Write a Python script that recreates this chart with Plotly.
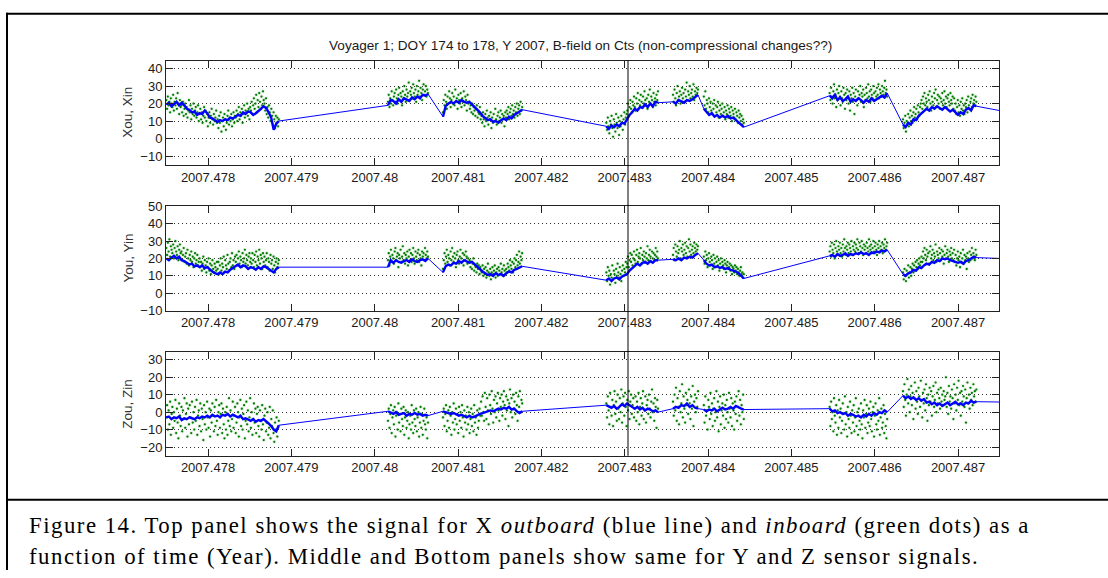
import numpy as np
import plotly.graph_objects as go

W, H = 1108, 578

# Telemetry passes (fractional year): start and end of each continuous block
SEG_START = [2007.47750, 2007.48016, 2007.48082, 2007.48278, 2007.48358, 2007.48395, 2007.48546, 2007.48634]
SEG_END = [2007.47885, 2007.48064, 2007.48177, 2007.48340, 2007.48388, 2007.48443, 2007.48615, 2007.48722]
T_LAST = 2007.48750

X_TICKS = [2007.478, 2007.479, 2007.480, 2007.481, 2007.482, 2007.483, 2007.484, 2007.485, 2007.486, 2007.487]
X_TICK_TEXT = ["2007.478", "2007.479", "2007.48", "2007.481", "2007.482", "2007.483",
               "2007.484", "2007.485", "2007.486", "2007.487"]
MARKER_T = 2007.48304

# ---- X sensor: outboard (line) and inboard (dots), one list per pass ----
X_OUT = [
    [19.5, 20.5, 18.5, 20, 21, 19, 20.5, 19, 17, 16.5, 15, 15.5, 13.5, 14.5, 14, 16, 14.5, 12, 11.5, 10.5,
     9.5, 10.5, 10, 11, 10.5, 12, 11.5, 12.5, 13.5, 13, 15, 14, 15.5, 15, 13.5, 14.5, 15.5, 17, 18.5, 17.5,
     15, 12, 5, 8.5, 10],
    [19, 22, 21.5, 20, 22.5, 21, 23, 22, 21.5, 23.5, 22.5, 24, 23, 25, 24.5, 25.5],
    [12.5, 18.5, 20, 21, 20, 21.5, 20.5, 22, 21, 20.5, 21, 19.5, 18.5, 17, 15, 13, 12, 10.5, 11, 9.5,
     10, 9, 10.5, 11.5, 10.5, 12.5, 11.5, 13.5, 14.5, 15.5, 16.5],
    [7, 5.5, 7.5, 6.5, 8, 7, 9, 8.5, 11, 13.5, 15, 17, 16, 18, 17.5, 19.5, 18, 20, 18.5, 21, 20.5],
    [21, 20, 22, 21, 20.5, 22, 21.5, 22.5, 24, 25],
    [17, 15, 13.5, 14.5, 12.5, 13.5, 12, 13, 12, 13, 11.5, 12, 10.5, 9, 8, 6.5],
    [24.5, 23, 25, 22, 23.5, 21.5, 22.5, 24, 21, 22.5, 21.5, 23, 22, 20.5, 22, 21, 23, 21.5, 22.5, 23.5,
     24.5, 23.5, 26],
    [8, 6.5, 9, 8, 11, 10.5, 13, 14.5, 15.5, 17, 16, 18, 17, 18.5, 17.5, 16.5, 18, 17, 15.5, 16.5, 15,
     13.5, 15, 14, 16.5, 17.5, 16, 19, 18.5],
]
X_OUT_LAST = 16.0
X_IN = [
    [22, 17, 24, 19, 21, 15, 23, 20, 18, 25, 16, 21, 19, 23, 17, 26, 20, 14, 22, 18,
     19, 15, 21, 13, 17, 20, 14, 18, 12, 16, 22, 15, 19, 11, 17, 14, 20, 13, 16, 18, 12, 15, 19, 10,
     14, 17, 11, 15, 9, 13, 18, 12, 16, 10, 14, 7, 12, 15, 9, 13, 17, 11, 8, 14, 10, 12, 16, 9,
     11, 6, 13, 9, 15, 4, 10, 12, 7, 14, 11, 5, 9, 13, 16, 8, 12, 10, 14, 7, 11, 15, 9, 13,
     12, 16, 10, 14, 18, 11, 15, 13, 17, 9, 14, 19, 12, 16, 15, 20, 13, 17, 11, 18,
     16, 21, 14, 19, 23, 17, 20, 25, 15, 22, 18, 26, 21, 17, 24, 19, 27, 22,
     20, 16, 23, 14, 18, 12, 19, 15, 10, 17, 13, 8, 15, 11, 6, 13, 9, 12, 7, 11],
    [21, 25, 18, 23, 20, 27, 22, 19, 24, 26, 21, 28, 23, 20, 25, 29, 22, 26, 24, 19, 27, 23, 30, 25, 21, 28,
     24, 26, 32, 22, 27, 25, 29, 23, 31, 26, 24, 28, 21, 30, 25, 27, 33, 24, 29, 26, 22, 28, 31, 25, 27, 30,
     24, 28, 26],
    [15,
     22, 19, 25, 21, 17, 24, 20, 27, 23, 18, 22, 26, 20, 24, 19, 28, 21, 23, 17, 25, 22, 20, 26, 18, 23, 21,
     27, 19, 24, 22, 16, 25, 20,
     21, 17, 19, 15, 20, 14, 18, 16, 13, 17, 19, 12, 15, 14, 18, 11,
     13, 9, 15, 11, 7, 14, 10, 16, 12, 8, 13, 11, 15, 6, 12, 9, 14, 10, 17, 11, 8, 13, 15, 10, 12, 16, 9, 14,
     11, 13, 7, 15,
     12, 16, 14, 18, 11, 15, 17, 13, 19, 14, 16, 12, 18, 15, 20, 13, 17, 19, 14, 21, 16, 18],
    [9, 5, 12, 7, 3, 10, 8, 13, 6, 1, 11, 8, 4, 14, 9, 6, 12, 2, 10, 7, 13, 9, 5, 11, 15, 8, 12, 14,
     16, 20, 13, 18, 22, 17, 15, 21, 19, 24, 18, 16, 23, 20, 26, 17, 22, 19, 25, 21, 18, 24, 20, 27, 22, 19,
     23, 17, 25, 21, 28, 20, 24, 22, 18, 26, 21, 23, 19, 25, 22, 27],
    [25, 21, 28, 23, 19, 26, 30, 22, 24, 27, 20, 25, 29, 23, 26, 21, 28, 24, 32, 22, 27, 25, 30, 23, 26, 28,
     24, 31, 22, 27, 25, 29, 26, 28],
    [24, 19, 27, 17, 22, 20, 15, 23, 18, 21, 16, 14, 20, 17, 22, 13, 19, 15, 18, 21, 12, 16, 19, 14, 17, 20,
     13, 15, 18, 11, 16, 14, 19, 12, 17, 15, 13, 18, 10, 16, 14, 12, 17, 11, 15, 13, 9, 16, 12, 14, 10, 13,
     8, 11, 9],
    [26, 22, 29, 24, 20, 27, 31, 23, 25, 18, 28, 22, 26, 30, 24, 19, 27, 23, 21, 29, 25, 17, 26, 22, 28, 24,
     20, 27, 16, 25, 23, 29, 21, 26, 14, 24, 28, 22, 19, 27, 23, 25, 30, 21, 26, 24, 28, 18, 25, 22, 29, 26,
     23, 31, 24, 27, 21, 28, 25, 23, 30, 26, 22, 27, 24, 29, 25, 31, 23, 28, 26, 24, 30, 27, 25, 29, 33, 26,
     28, 24],
    [11, 6, 9, 13, 4, 10, 8, 14, 7, 12, 16, 10, 13, 9, 15, 18, 12, 14, 17, 11, 19, 15, 13, 18, 20,
     22, 17, 24, 20, 26, 19, 23, 21, 18, 25, 22, 27, 20, 16, 24, 21, 19, 26, 23, 28, 18, 22, 25, 20, 24, 17,
     23, 21, 26, 19, 22, 27, 20, 24, 18, 23, 25, 21, 19, 26, 22, 20, 24, 17, 23,
     16, 20, 14, 18, 22, 15, 19, 13, 21, 17, 23, 16, 19, 14, 20, 18, 22, 15, 24, 19, 17, 21, 23, 18, 25, 20,
     22, 19, 24, 21],
]

# ---- Y sensor ----
Y_OUT = [
    [20, 19, 20.5, 21.5, 20, 21, 19, 18.5, 17.5, 16.5, 17, 15.5, 16, 15, 16, 14.5, 15, 13.5, 12.5, 11.5, 11,
     12, 11, 12.5, 12, 13.5, 14.5, 15.5, 16.5, 15, 16, 15.5, 14, 15, 14.5, 13.5, 15, 14, 15.5, 15, 14, 12.5,
     12, 14, 15],
    [15, 19, 17.5, 19, 18, 17.5, 18.5, 19, 18, 19.5, 18.5, 18, 19, 19.5, 18.5, 20],
    [12, 15.5, 16.5, 16, 17.5, 17, 18.5, 17.5, 19, 18, 17.5, 18, 16.5, 15, 13.5, 12.5, 11.5, 10.5, 11, 10,
     11.5, 10.5, 11, 10, 11.5, 12.5, 12, 13.5, 14, 15, 15.5],
    [7.5, 8.5, 7, 8.5, 9, 8, 9.5, 10.5, 11, 13, 14.5, 15.5, 17, 16, 17.5, 18, 17, 18.5, 17.5, 19, 19],
    [19.5, 19, 20, 19, 20.5, 20, 21, 20.5, 22, 23],
    [19, 17, 16, 16.5, 15, 15.5, 14.5, 15, 14, 14.5, 13.5, 13, 12.5, 11.5, 10, 8.5],
    [21.5, 22, 21, 22.5, 21.5, 22, 23, 21.5, 22.5, 22, 23, 22.5, 23.5, 22.5, 23, 22, 23.5, 23, 24, 23.5,
     24.5, 24, 25],
    [11, 10, 11.5, 12, 13.5, 13, 15, 14.5, 16, 17, 16.5, 18, 17.5, 19, 18.5, 20, 19.5, 20, 19, 18.5, 18,
     17.5, 18, 17, 18.5, 19, 20, 21, 20.5],
]
Y_OUT_LAST = 20.0
Y_IN = [
    [26, 22, 29, 24, 31, 21, 27, 25, 23, 28, 20, 26, 30, 24, 22, 27, 19, 25, 28, 23,
     24, 19, 22, 26, 18, 21, 23, 17, 25, 20, 16, 22, 19, 24, 18, 21, 15, 20, 23, 17, 19, 22, 16, 18,
     20, 15, 18, 13, 17, 21, 14, 19, 16, 12, 18, 15, 20, 13, 17, 11, 16, 19, 14, 12, 17, 15, 13, 18,
     14, 18, 11, 16, 20, 13, 17, 15, 21, 12, 19, 16, 14, 22, 17, 13, 18, 20, 15, 23, 16, 19, 14, 21,
     18, 22, 16, 20, 24, 17, 21, 19, 15, 23, 18, 20, 25, 17, 22, 19, 16, 21, 23, 18,
     20, 17, 23, 19, 15, 22, 18, 24, 16, 21, 19, 25, 17, 22, 20, 14, 23, 18,
     21, 16, 19, 23, 15, 20, 18, 13, 22, 17, 19, 14, 21, 16, 12, 18, 20, 15, 17, 19],
    [19, 23, 16, 21, 25, 18, 22, 20, 17, 24, 26, 19, 21, 23, 15, 22, 20, 25, 18, 21, 27, 19, 23, 17, 22, 20,
     24, 16, 21, 25, 19, 23, 18, 22, 26, 20, 17, 24, 21, 19, 23, 25, 18, 22, 20, 16, 24, 21, 23, 19, 26, 22,
     20, 24, 21],
    [14,
     19, 23, 17, 21, 25, 18, 22, 20, 16, 24, 19, 26, 21, 18, 23, 20, 15, 22, 24, 19, 17, 21, 25, 20, 18, 23,
     16, 22, 19, 24, 21, 17, 20, 18,
     19, 15, 18, 14, 17, 20, 13, 16, 15, 12, 17, 14, 16, 11, 15, 13,
     12, 16, 10, 14, 11, 15, 9, 13, 17, 12, 10, 14, 8, 12, 15, 11, 13, 16, 9, 12, 14, 10, 15, 13, 11, 17, 12,
     14, 10, 16, 13, 11,
     14, 12, 17, 15, 13, 19, 16, 14, 18, 12, 17, 20, 15, 19, 22, 16, 18, 24, 17, 21, 19, 23],
    [12, 7, 15, 10, 13, 5, 11, 9, 16, 8, 13, 11, 6, 14, 10, 17, 12, 9, 15, 11, 7, 13, 16, 10, 14, 12, 18, 15,
     17, 21, 15, 19, 23, 18, 22, 16, 20, 24, 19, 17, 22, 25, 18, 21, 23, 20, 26, 17, 22, 19, 24, 21, 18, 23,
     20, 27, 19, 22, 25, 21, 18, 24, 20, 23, 19, 22, 26, 21, 24, 20],
    [22, 26, 19, 28, 24, 21, 27, 23, 25, 30, 20, 26, 24, 28, 22, 25, 29, 23, 27, 21, 26, 31, 24, 28, 22, 25,
     27, 23, 29, 26, 24, 28, 25, 27],
    [21, 17, 24, 19, 22, 15, 20, 23, 18, 16, 21, 19, 14, 22, 17, 20, 15, 18, 21, 16, 19, 13, 17, 20, 15, 18,
     16, 14, 19, 17, 12, 16, 18, 14, 15, 17, 13, 16, 11, 15, 14, 12, 16, 13, 15, 11, 14, 12, 10, 13, 15, 11,
     12, 9, 11],
    [24, 27, 21, 29, 25, 23, 28, 20, 26, 30, 24, 22, 27, 25, 29, 23, 26, 21, 28, 24, 31, 26, 22, 27, 25, 29,
     23, 28, 26, 24, 30, 22, 27, 25, 29, 24, 28, 26, 31, 25, 23, 29, 27, 24, 30, 26, 22, 28, 25, 27, 23, 29,
     26, 24, 31, 27, 25, 28, 23, 26, 30, 24, 27, 29, 25, 22, 28, 26, 30, 24, 27, 25, 29, 23, 28, 26, 31, 25,
     27, 29],
    [12, 8, 14, 10, 7, 13, 11, 16, 9, 12, 15, 10, 14, 17, 12, 16, 13, 18, 15, 19, 14, 17, 20, 16, 18,
     21, 18, 24, 20, 26, 22, 19, 25, 21, 23, 17, 24, 27, 20, 22, 25, 19, 23, 21, 28, 18, 24, 22, 20, 26, 23,
     19, 25, 21, 24, 17, 22, 27, 20, 23, 25, 21, 18, 24, 22, 26, 20, 23, 19, 25,
     18, 22, 16, 20, 24, 19, 21, 15, 23, 18, 20, 25, 17, 22, 19, 21, 14, 23, 20, 18, 24, 19, 22, 26, 20, 23,
     21, 19, 25, 22],
]

# ---- Z sensor ----
Z_OUT = [
    [-3, -2.5, -4, -3, -3.5, -2.5, -4.5, -3.5, -4, -3, -3.5, -4, -3, -3.5, -2.5, -3, -2, -3, -1.5, -2.5, -2,
     -3, -1.5, -2, -1, -2.5, -1.5, -2.5, -3, -2, -4, -3.5, -4.5, -5, -4, -5.5, -4.5, -5, -4, -5, -6.5, -8,
     -10, -11, -7.5],
    [0.5, -0.5, -1, 0, -1.5, -1, -0.5, -2, -1, -1.5, -0.5, -1.5, -1, -2, -1.5, -2],
    [0.5, 0, -0.5, -1, -0.5, -1.5, -2, -1.5, -2.5, -3, -2, -3, -2.5, -1.5, -1, -0.5, 0, 0.5, 1, 0.5, 1.5, 2,
     1.5, 2.5, 2, 3, 1.5, 2, 0.5, -0.5, 0.5],
    [4, 3, 2.5, 3.5, 2, 3, 4.5, 3.5, 5, 4, 3, 2, 3, 1.5, 2.5, 1, 2, 1.5, 0.5, 1, 0],
    [2, 3, 2.5, 4, 3.5, 5, 3, 4, 2.5, 2],
    [1.5, 0.5, 1.5, 1, 2, 0.5, 1.5, 2.5, 1.5, 2, 3, 2, 3.5, 2.5, 2, 1.5],
    [2, 0.5, 1, -0.5, 0, -1, -0.5, -2, -1, -1.5, -2.5, -2, -3, -1.5, -2.5, -1, -2, -0.5, -1.5, 0, -0.5, 1, 0],
    [9.5, 8, 9, 7.5, 8.5, 7, 8, 6.5, 7.5, 5.5, 6, 4.5, 5.5, 4, 5, 3.5, 4.5, 5.5, 4, 5, 6, 4.5, 5, 4, 5.5, 5,
     6.5, 5.5, 6],
]
Z_OUT_LAST = 5.8
Z_IN = [
    [-3, 4, -10, 1, -7, 6, -13, -1, 3, -9, 0, -5, 7, -12, 2, -6, -15, 5, -2, -8, 3, -11, 1, -4, 8, -9, -1, 5,
     -14, 2, -7, 4, -3, -12, 6, -6, 0, -10, 3, -5, 7, -13, -2, 1, -8, 5, -11, 2, -4, -16, 4, -7, 0, -10, 6,
     -3, -9, 2, -14, 1, -6, 5, -2, -11, 3, -8, 7, -5, -13, 0, 4, -9, -1, 5, -12, 2, -7, -15, 0, -10, 3, -13,
     -5, 8, -8, 1, -11, -4, 6, -9, -2, 3, -12, -6, 5, 0, -14, -3, 7, -8, 2, -10, -1, 4, -15, -5, 6, -7, 1,
     -11, -3, 8, -9, 0, -13, -4, 5, -6, 2, -12, -1, 3, -8, -14, 1, -5, -10, 4, -7, -16, -2, 2, -11, -6, 0,
     -13, -9, 3, -15, -4, -8, 1, -12, -17, -6, -10, -3, -14, -9, -5],
    [-5, 2, -9, -1, 4, -12, -3, 1, -7, 3, -14, -2, 0, -10, 5, -6, -1, -11, 2, -4, -8, 3, -13, -3, 1, -9, -5,
     0, -15, -7, -2, -10, 4, -6, -12, 1, -4, -8, 2, -11, -3, 0, -14, -6, 3, -9, -1, -13, -5, 2, -7, -10, -3,
     -15, -6],
    [-3, 2, -8, -1, 4, -11, -5, 1, -9, 3, -2, -13, 0, -6, 5, -10, -4, 2, -7, -1, -12, 3, -5, 0, -9, 4, -3,
     -14, 1, -6, -2, -10, 3, -7, 0, -12, -4, 2, -8, -1, -11, 4, -6, -3, -13, 1, -9, -5, 2, -2,
     6, -2, 9, 0, -5, 11, 3, -4, 8, 1, -7, 10, 4, -1, 12, 2, -6, 7, 0, 9, -3, 5, 11, 1, -5, 8, 3, 10, -2, 6,
     12, 4, -4, 9, 1, 7, -8, 5, 13, 0, 8, -3, 10, 2, 6, -1, 11, 4, -5, 9, 3, 12, 0, 7, 5],
    [5, -3, 9, 1, -7, 11, 3, -2, 7, -8, 4, 12, -1, 6, -5, 10, 2, -4, 8, 0, 13, -6, 5, 9, -2, 11, 3, -8, 7, 1,
     12, -4, 6, 10, -1, 4, 8, -3, 2, 9, -5, 6, 0, 11, -7, 3, 8, -2, 5, 12, -4, 1, 9, -6, 4, 7, -1, 10, 2, -3,
     6, 13, 0, 5, -5, 8, 3, -9, 7, 2],
    [6, -2, 10, 1, 14, -5, 8, 3, -7, 12, 0, 5, 16, -3, 9, 2, -6, 11, 4, 7, -1, 13, 5, -4, 9, 2, 15, -8, 6,
     10, 0, 8, 3, 12],
    [4, -6, 9, -2, 1, -10, 7, 3, -4, 11, -1, 5, -8, 2, 8, -5, 0, 12, -3, 6, -11, 3, 9, -7, 1, 5, -2, 10, -9,
     4, -4, 7, 0, -6, 11, 2, -3, 8, -8, 5, 1, -10, 6, -1, 9, -5, 3, 12, -2, 7, -7, 4, 0, 10, -4],
    [3, -8, 6, -4, 0, -11, 8, -2, -6, 4, -13, 1, -9, 7, -3, 2, -12, -5, 5, -1, -10, 9, -7, 0, -14, 3, -4, -9,
     6, -2, -12, 1, -6, 4, -11, -3, 8, -8, 0, -13, 2, -5, -10, 5, -7, -15, 1, -3, 7, -9, -1, 4, -12, -6, 2,
     -8, 6, -4, -11, 0, 3, -14, -2, 5, -7, -10, 1, -5, 8, -13, -3, 2, -9, -6, 4, -12, -1, -8, -15, -4],
    [12, 3, 16, 7, -2, 10, 19, 5, 13, 0, 9, 15, 4, 11, -4, 8, 17, 2, 12, 6, -1, 14, 9, 3, 18, 7, -3, 11, 5,
     13, 1, 16, 8, -5, 10, 4, 14, 6, 12, -2, 9, 15, 3, 7, 17, 0, 11, 5, 13, 8, 2, 14, 6, 10, 4, 12, 7, 9, 20,
     3, 11, -1, 15, 6, 9, 2, 13, 8, -4, 16, 5, 10, 1, 14, 7, 18, 4, 11, -2, 12, 6, 15, 9, 3, 13, -6, 8, 17,
     5, 10, 2, 14, 7, 11, 4, 16, 9, 12, 6, 13],
]

PANELS = [
    dict(out=X_OUT, inb=X_IN, last=X_OUT_LAST, title="Xou, Xin", yrange=[-15.2, 44.6],
         yticks=[-10, 0, 10, 20, 30, 40], top=55.0, bottom=162.3),
    dict(out=Y_OUT, inb=Y_IN, last=Y_OUT_LAST, title="You, Yin", yrange=[-10, 50],
         yticks=[-10, 0, 10, 20, 30, 40, 50], top=204.5, bottom=311.8),
    dict(out=Z_OUT, inb=Z_IN, last=Z_OUT_LAST, title="Zou, Zin", yrange=[-25.0, 34.6],
         yticks=[-20, -10, 0, 10, 20, 30], top=354.0, bottom=460.7),
]

AX_LEFT, AX_RIGHT = 166.0, 999.0
BLUE = "#0000ff"
GREEN = "#007a00"
SANS = "Liberation Sans, Arial, sans-serif"
TICK_FONT = dict(family=SANS, size=13, color="#1a1a1a")


def px(x):
    return x / W


def py(y):
    return 1 - y / H


def sample_times(t0, t1, n):
    return np.linspace(t0, t1, n)


fig = go.Figure()
layout = {}

for i, p in enumerate(PANELS):
    k = "" if i == 0 else str(i + 1)
    xa, ya = "x" + k, "y" + k

    # inboard dots: faint halo underneath, solid dots on top
    gx, gy = [], []
    for t0, t1, vals in zip(SEG_START, SEG_END, p["inb"]):
        gx.extend(sample_times(t0, t1, len(vals)))
        gy.extend(vals)
    fig.add_trace(go.Scatter(x=gx, y=gy, mode="markers", xaxis=xa, yaxis=ya,
                             marker=dict(color="rgba(0,140,0,0.13)", size=4, line=dict(width=0)),
                             hoverinfo="skip", showlegend=False))
    fig.add_trace(go.Scatter(x=gx, y=gy, mode="markers", xaxis=xa, yaxis=ya,
                             marker=dict(color=GREEN, size=2.2, line=dict(width=0)),
                             hoverinfo="skip", showlegend=False))

    # outboard line: thin line through every sample (joins across data gaps)
    bx, by = [], []
    for t0, t1, vals in zip(SEG_START, SEG_END, p["out"]):
        bx.extend(sample_times(t0, t1, len(vals)))
        by.extend(vals)
    bx.append(T_LAST)
    by.append(p["last"])
    fig.add_trace(go.Scatter(x=bx, y=by, mode="lines", xaxis=xa, yaxis=ya,
                             line=dict(color=BLUE, width=1),
                             hoverinfo="skip", showlegend=False))
    # dense sampling within each pass renders as a heavier band
    for t0, t1, vals in zip(SEG_START, SEG_END, p["out"]):
        fig.add_trace(go.Scatter(x=sample_times(t0, t1, len(vals)), y=vals, mode="lines",
                                 xaxis=xa, yaxis=ya, line=dict(color=BLUE, width=2.4),
                                 hoverinfo="skip", showlegend=False))

    layout["xaxis" + k] = dict(
        domain=[px(AX_LEFT), px(AX_RIGHT)], anchor=ya, range=[2007.477496, 2007.487492],
        tickvals=X_TICKS, ticktext=X_TICK_TEXT, ticks="inside", ticklen=7, tickwidth=1,
        tickcolor="#222", showline=True, linecolor="#222", linewidth=1, mirror="ticks",
        showgrid=False, zeroline=False, tickfont=TICK_FONT,
    )
    layout["yaxis" + k] = dict(
        domain=[py(p["bottom"]), py(p["top"])], anchor=xa, range=p["yrange"],
        tickvals=p["yticks"], ticks="inside", ticklen=7, tickwidth=1, tickcolor="#222",
        showline=True, linecolor="#222", linewidth=1, mirror="ticks",
        showgrid=True, gridcolor="#333", gridwidth=1, griddash="1px,3px",
        zeroline=False, tickfont=TICK_FONT,
    )

annotations = [
    dict(text="Voyager 1; DOY 174 to 178, Y 2007, B-field on Cts (non-compressional changes??)",
         x=px(580.5), y=py(40), xref="paper", yref="paper", showarrow=False,
         xanchor="center", yanchor="middle", font=dict(family=SANS, size=13.6, color="#1a1a1a")),
]
for p in PANELS:
    annotations.append(dict(
        text=p["title"], x=px(128), y=py((p["top"] + p["bottom"]) / 2), xref="paper", yref="paper",
        showarrow=False, textangle=-90, xanchor="center", yanchor="middle",
        font=dict(family=SANS, size=13.5, color="#333")))

CAPTION_1 = ("Figure 14. Top panel shows the signal for X <i>outboard</i> (blue line) and "
             "<i>inboard</i> (green dots) as a")
CAPTION_2 = "function of time (Year). Middle and Bottom panels show same for Y and Z sensor signals."
for txt, yc in [(CAPTION_1, 532.5), (CAPTION_2, 564)]:
    annotations.append(dict(
        text='<span style="letter-spacing:1.5px">' + txt + "</span>",
        x=px(27), y=py(yc), xref="paper", yref="paper", showarrow=False,
        xanchor="left", yanchor="middle",
        font=dict(family="Liberation Serif, Times New Roman, serif", size=22.8, color="black")))

shapes = [
    # time marker across all three panels
    dict(type="line", xref="x", yref="paper", x0=MARKER_T, x1=MARKER_T,
         y0=py(PANELS[2]["bottom"]), y1=py(PANELS[0]["top"]), line=dict(color="black", width=1)),
    # figure frame and caption separator
    dict(type="line", xref="paper", yref="paper", x0=px(7), x1=px(7), y0=0, y1=py(6),
         line=dict(color="black", width=2)),
    dict(type="line", xref="paper", yref="paper", x0=px(6), x1=1, y0=py(7), y1=py(7),
         line=dict(color="black", width=2)),
    dict(type="line", xref="paper", yref="paper", x0=px(6), x1=1, y0=py(506), y1=py(506),
         line=dict(color="black", width=2)),
]

fig.update_layout(
    width=W, height=H, margin=dict(l=0, r=0, t=0, b=0),
    paper_bgcolor="white", plot_bgcolor="white",
    annotations=annotations, shapes=shapes, showlegend=False, **layout,
)

fig.write_html("out.html")
